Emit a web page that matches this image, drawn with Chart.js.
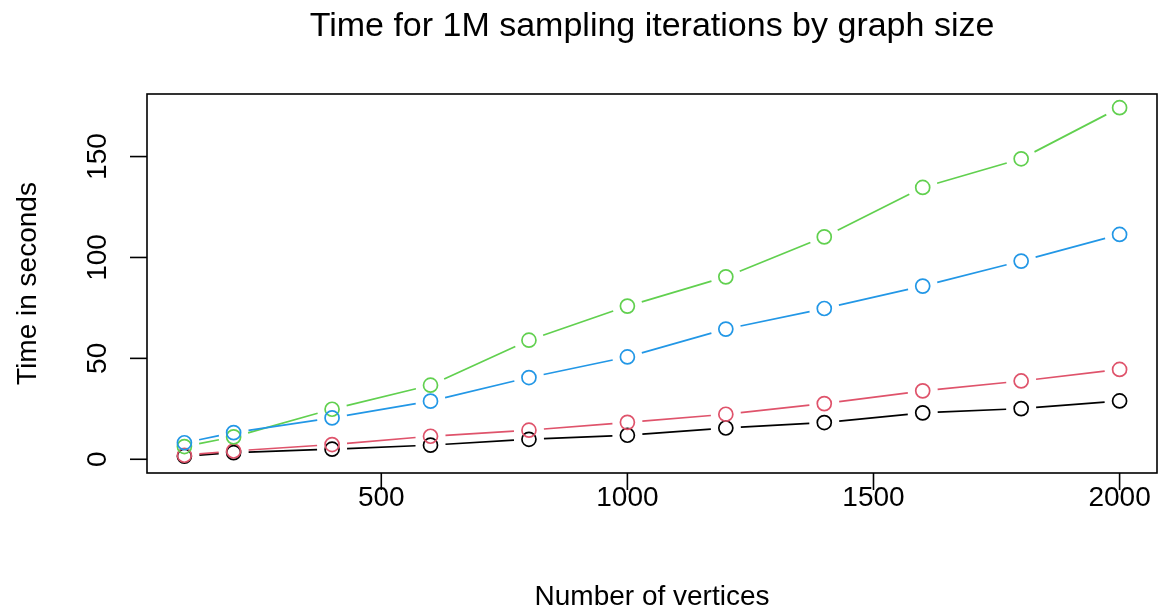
<!DOCTYPE html>
<html>
<head>
<meta charset="utf-8">
<script src="https://cdn.jsdelivr.net/npm/chart.js@4.4.1/dist/chart.umd.min.js"></script>
<style>
  html, body { margin: 0; padding: 0; background: #ffffff; }
  #wrap { width: 1160px; height: 612px; }
</style>
</head>
<body>
<div id="wrap"><canvas id="chart" width="1160" height="612"></canvas></div>
<script>
// Graph sizes (x) and timings in seconds for each series
const vertices = [100, 200, 400, 600, 800, 1000, 1200, 1400, 1600, 1800, 2000];
const timeBlack = [1.5, 3.3, 5.0, 7.0, 9.9, 11.9, 15.5, 18.2, 23.0, 25.1, 28.9];
const timeRed = [2.0, 4.1, 7.3, 11.4, 14.4, 18.3, 22.3, 27.6, 33.9, 38.8, 44.5];
const timeGreen = [6.3, 11.1, 24.8, 36.7, 59.0, 75.9, 90.4, 110.2, 134.7, 148.9, 174.2];
const timeBlue = [8.2, 13.2, 20.5, 28.8, 40.5, 50.7, 64.5, 74.7, 85.8, 98.2, 111.4];

const xTicks = [500, 1000, 1500, 2000];
const yTicks = [0, 50, 100, 150];

const titleText = "Time for 1M sampling iterations by graph size";
const xTitle = "Number of vertices";
const yTitle = "Time in seconds";

const FONT = '"Liberation Sans", Arial, Helvetica, sans-serif';

// R-style series: hollow circles with line segments that stop short of each point
const makeSeries = (values, color, order) => ({
    data: vertices.map((v, i) => ({ x: v, y: values[i] })),
    borderColor: color,
    backgroundColor: 'transparent',
    pointBackgroundColor: 'transparent',
    pointBorderColor: color,
    pointBorderWidth: 1.7,
    pointRadius: 7,
    pointStyle: 'circle',
    showLine: false,
    order: order
});

const datasets = [
    makeSeries(timeBlack, '#000000', 4),
    makeSeries(timeRed, '#DF536B', 3),
    makeSeries(timeGreen, '#61D04F', 2),
    makeSeries(timeBlue, '#2297E6', 1)
];

// Draw gapped segments between points (like type = "b")
const gapLinesPlugin = {
    id: 'gapLines',
    afterDatasetDraw(chart, args) {
        const ctx = chart.ctx;
        const pts = args.meta.data;
        const ds = chart.data.datasets[args.index];
        const gap = 15;
        ctx.save();
        ctx.strokeStyle = ds.borderColor;
        ctx.lineWidth = 1.7;
        ctx.beginPath();
        for (let i = 0; i < pts.length - 1; i++) {
            const p0 = pts[i], p1 = pts[i + 1];
            const dx = p1.x - p0.x, dy = p1.y - p0.y;
            const len = Math.sqrt(dx * dx + dy * dy);
            if (len <= 2 * gap) continue;
            const ux = dx / len, uy = dy / len;
            ctx.moveTo(p0.x + ux * gap, p0.y + uy * gap);
            ctx.lineTo(p1.x - ux * gap, p1.y - uy * gap);
        }
        ctx.stroke();
        ctx.restore();
    }
};

// Box, ticks, tick labels and titles in base-graphics style
const framePlugin = {
    id: 'frame',
    afterDraw(chart) {
        const ctx = chart.ctx;
        const { left, top, right, bottom } = chart.chartArea;
        const xs = chart.scales.x;
        const ys = chart.scales.y;
        const tick = 17;

        ctx.save();
        ctx.strokeStyle = '#000000';
        ctx.fillStyle = '#000000';
        ctx.lineWidth = 1.6;
        ctx.strokeRect(left, top, right - left, bottom - top);

        // x axis
        ctx.font = '28px ' + FONT;
        ctx.textAlign = 'center';
        ctx.textBaseline = 'middle';
        xTicks.forEach(v => {
            const px = xs.getPixelForValue(v);
            ctx.beginPath();
            ctx.moveTo(px, bottom);
            ctx.lineTo(px, bottom + tick);
            ctx.stroke();
            ctx.fillText(String(v), px, bottom + 25);
        });

        // y axis (labels parallel to the axis)
        yTicks.forEach(v => {
            const py = ys.getPixelForValue(v);
            ctx.beginPath();
            ctx.moveTo(left - tick, py);
            ctx.lineTo(left, py);
            ctx.stroke();
            ctx.save();
            ctx.translate(left - 49, py);
            ctx.rotate(-Math.PI / 2);
            ctx.fillText(String(v), 0, 0);
            ctx.restore();
        });

        // axis titles
        const midX = (left + right) / 2;
        const midY = (top + bottom) / 2;
        ctx.fillText(xTitle, midX, 597);
        ctx.save();
        ctx.translate(28, midY);
        ctx.rotate(-Math.PI / 2);
        ctx.fillText(yTitle, 0, 0);
        ctx.restore();

        // main title
        ctx.font = '34px ' + FONT;
        ctx.fillText(titleText, midX, 27);
        ctx.restore();
    }
};

new Chart(document.getElementById('chart'), {
    type: 'line',
    data: { datasets },
    options: {
        responsive: false,
        animation: false,
        events: [],
        layout: { autoPadding: false, padding: { left: 147, right: 3, top: 94, bottom: 139 } },
        plugins: {
            legend: { display: false },
            title: { display: false },
            tooltip: { enabled: false }
        },
        scales: {
            x: { type: 'linear', min: 24, max: 2076, display: false },
            y: { type: 'linear', min: -6.8, max: 181, display: false }
        }
    },
    plugins: [gapLinesPlugin, framePlugin]
});
</script>
</body>
</html>
